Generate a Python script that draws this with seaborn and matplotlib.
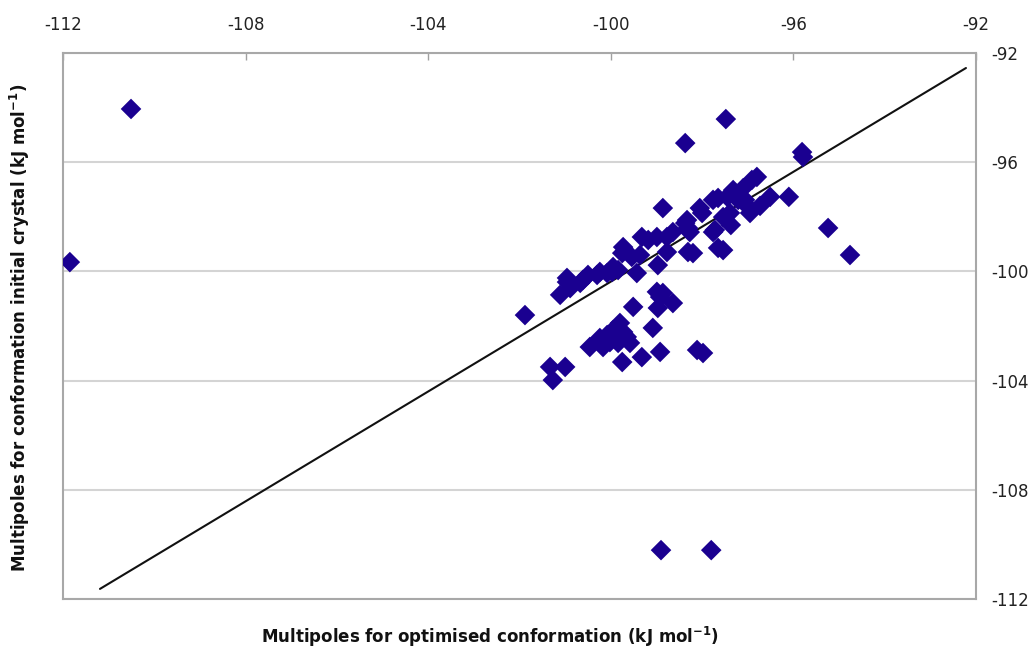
import matplotlib
matplotlib.use("Agg")
import matplotlib.pyplot as plt
import seaborn as sns
import pandas as pd

# Data (kJ/mol)
x_opt = [-110.51, -111.85, -97.48, -98.37, -95.81, -95.79, -95.24, -94.76, -96.10, -96.51,
         -96.80, -96.91, -96.73, -97.06, -97.10, -97.32, -97.45, -97.21, -96.99, -96.95,
         -97.39, -97.54, -97.37, -97.76, -97.54, -98.05, -98.00, -97.76, -97.65, -98.33,
         -98.37, -98.31, -98.27, -97.72, -98.86, -98.64, -98.77, -98.99, -99.32, -99.18,
         -98.31, -98.20, -97.65, -99.73, -99.75, -99.54, -99.36, -98.77, -98.97, -99.43,
         -99.95, -99.97, -100.24, -100.50, -100.96, -99.84, -100.08, -100.30, -100.61, -100.67,
         -100.96, -100.89, -101.11, -101.88, -98.99, -98.86, -98.92, -98.64, -98.97, -99.51,
         -99.08, -98.92, -99.32, -99.75, -98.11, -97.98, -100.46, -100.24, -100.08, -99.95,
         -99.80, -99.73, -99.65, -99.84, -99.58, -100.02, -100.17, -101.33, -101.00, -101.27,
         -98.90, -97.80]
y_init = [-94.05, -99.66, -94.42, -95.30, -95.63, -95.81, -98.41, -99.40, -97.27, -97.27,
          -96.54, -96.65, -97.60, -97.38, -96.95, -97.02, -97.27, -97.38, -97.64, -97.86,
          -97.86, -98.01, -98.30, -98.56, -99.22, -97.68, -97.86, -97.38, -97.31, -98.12,
          -98.23, -98.41, -98.56, -98.48, -97.68, -98.56, -98.74, -98.74, -98.74, -98.85,
          -99.29, -99.33, -99.14, -99.11, -99.33, -99.47, -99.40, -99.29, -99.77, -100.06,
          -99.84, -100.02, -100.02, -100.13, -100.24, -99.95, -100.06, -100.13, -100.31, -100.42,
          -100.39, -100.61, -100.86, -101.60, -100.75, -100.79, -100.94, -101.16, -101.34, -101.30,
          -102.07, -102.95, -103.14, -103.32, -102.88, -102.99, -102.77, -102.44, -102.33, -102.15,
          -101.89, -102.22, -102.40, -102.62, -102.62, -102.59, -102.77, -103.50, -103.50, -103.98,
          -110.21, -110.21]

# Trend line endpoints
line_x = [-111.19, -92.22]
line_y = [-111.63, -92.55]

ticks = [-112, -108, -104, -100, -96, -92]

sns.set_theme(style="white")
plt.rcParams['font.family'] = ['DejaVu Sans']
plt.rcParams['mathtext.default'] = 'regular'

fig = plt.figure(figsize=(10.36, 6.5), dpi=100)
ax = fig.add_axes([63/1036, 1-599/650, (976-63)/1036, (599-53)/650])

df = pd.DataFrame({"x": x_opt, "y": y_init})
ax.plot(line_x, line_y, color="#111111", lw=1.5, zorder=2)
sns.scatterplot(data=df, x="x", y="y", marker="D", s=110, color="#1a0090",
                edgecolor="none", ax=ax, zorder=3)

ax.set_xlim(-112, -92)
ax.set_ylim(-112, -92)
ax.set_xticks(ticks)
ax.set_yticks(ticks)
ax.set_xticklabels([str(t) for t in ticks])
ax.set_yticklabels([str(t) for t in ticks])
ax.xaxis.tick_top()
ax.yaxis.tick_right()
ax.tick_params(axis='x', direction='in', length=5, width=1, color="#a0a0a0",
               labelsize=12, pad=14, labelcolor="#222222")
ax.tick_params(axis='y', direction='in', length=0, labelsize=12, pad=11, labelcolor="#222222")

ax.yaxis.grid(True, color="#d4d4d4", lw=1.5)
ax.xaxis.grid(False)
ax.set_axisbelow(True)
for sp in ax.spines.values():
    sp.set_color("#a8a8a8")
    sp.set_linewidth(1.5)

ax.set_xlabel("")
ax.set_ylabel("")
fig.text(490/1036, 1-637/650, r"Multipoles for optimised conformation (kJ mol$^{-1}$)",
         ha="center", va="center", fontsize=12, fontweight="bold", color="#111111")
fig.text(20/1036, 1-328/650, r"Multipoles for conformation initial crystal (kJ mol$^{-1}$)",
         ha="center", va="center", rotation=90, fontsize=12, fontweight="bold", color="#111111")

fig.savefig("out.png", dpi=100)
